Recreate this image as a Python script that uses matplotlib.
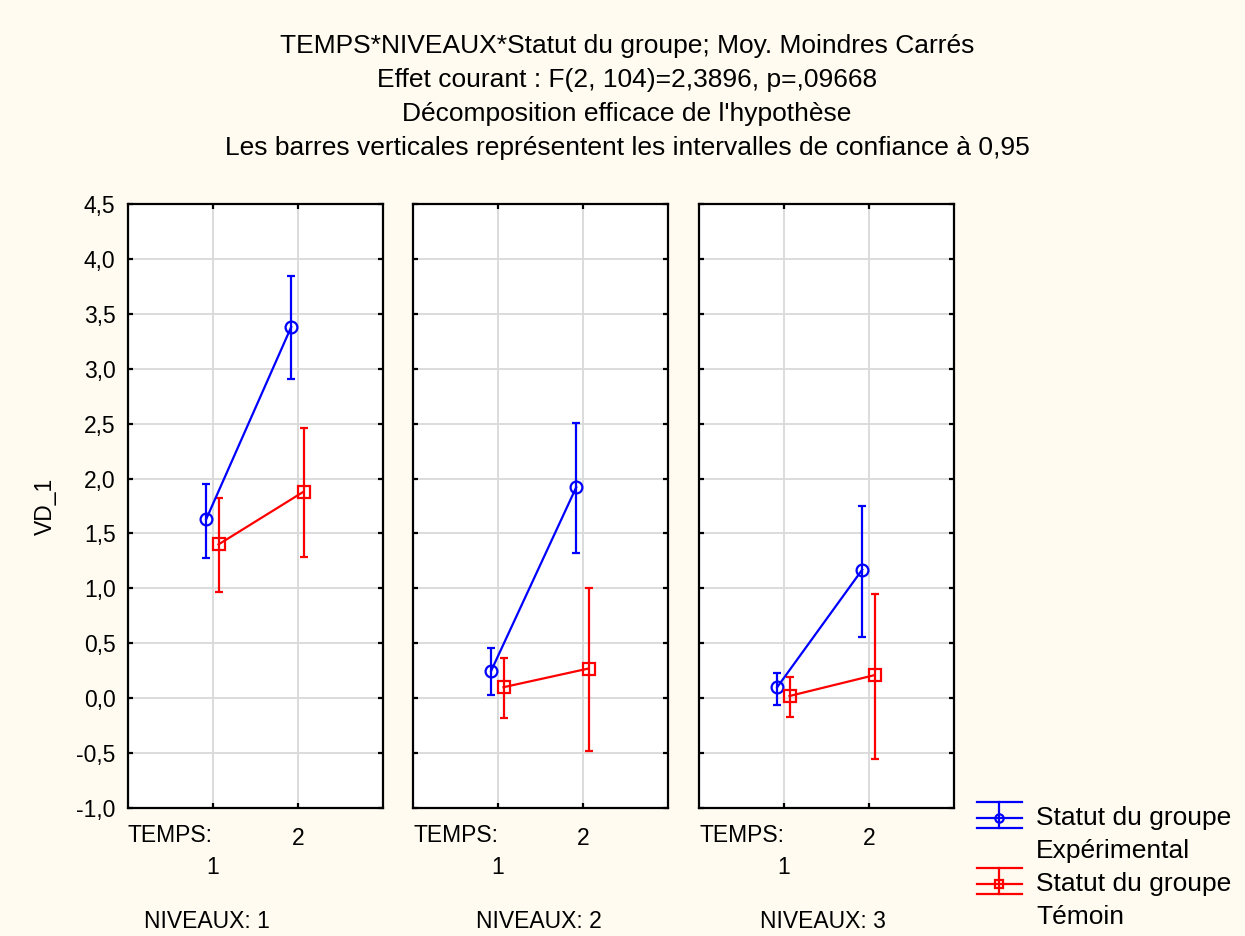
import matplotlib
matplotlib.use("Agg")
import matplotlib.pyplot as plt
from matplotlib.transforms import blended_transform_factory

plt.rcParams['font.family'] = ['Liberation Sans', 'DejaVu Sans']

# ---- data ----
temps = [1, 2]
niveaux_labels = ["NIVEAUX: 1", "NIVEAUX: 2", "NIVEAUX: 3"]
yticks = [-1.0, -0.5, 0.0, 0.5, 1.0, 1.5, 2.0, 2.5, 3.0, 3.5, 4.0, 4.5]
ytick_labels = ["-1,0", "-0,5", "0,0", "0,5", "1,0", "1,5", "2,0", "2,5", "3,0", "3,5", "4,0", "4,5"]

exp_mean = [[1.63, 3.38], [0.25, 1.92], [0.10, 1.17]]
exp_lo   = [[1.28, 2.91], [0.03, 1.32], [-0.06, 0.56]]
exp_hi   = [[1.95, 3.84], [0.46, 2.51], [0.23, 1.75]]
tem_mean = [[1.40, 1.88], [0.10, 0.27], [0.02, 0.21]]
tem_lo   = [[0.97, 1.29], [-0.18, -0.48], [-0.17, -0.55]]
tem_hi   = [[1.82, 2.46], [0.37, 1.00], [0.19, 0.95]]

series_names = ["Statut du groupe\nExpérimental", "Statut du groupe\nTémoin"]

title_lines = [
    "TEMPS*NIVEAUX*Statut du groupe; Moy. Moindres Carrés",
    "Effet courant : F(2, 104)=2,3896, p=,09668",
    "Décomposition efficace de l'hypothèse",
    "Les barres verticales représentent les intervalles de confiance à 0,95",
]

# ---- figure ----
W, H = 1245, 936
BG = '#FFFBF0'
fig = plt.figure(figsize=(W / 100, H / 100), dpi=100, facecolor=BG)

def fx(px):
    return px / W

def fy(py):
    return 1 - py / H

panel_left = [128, 413, 699]
pw, top, bot = 255, 204, 808
niv_cx = [207, 539, 823]

BLUE = '#0000FF'
RED = '#FF0000'
off_exp, off_tem = -0.08, 0.065
lw = 1.6
FS = 16.5

for i in range(3):
    ax = fig.add_axes([fx(panel_left[i]), fy(bot), fx(pw), (bot - top) / H])
    ax.set_facecolor('white')
    ax.set_xlim(0.0, 3.0)
    ax.set_ylim(-1.0, 4.5)
    ax.set_yticks(yticks)
    ax.set_xticks(temps)
    ax.grid(True, color='#D9D9D9', lw=1.3, zorder=0)
    ax.set_axisbelow(True)
    for s in ax.spines.values():
        s.set_linewidth(1.6)
        s.set_color('black')
    ax.tick_params(direction='in', length=3.5, width=1.6, top=True, right=True,
                   labelsize=FS, colors='black')
    if i == 0:
        ax.set_yticklabels(ytick_labels)
        ax.tick_params(axis='y', pad=9)
        ax.set_ylabel("VD_1", fontsize=FS, labelpad=14)
    else:
        ax.tick_params(axis='y', labelleft=False)
    ax.set_xticklabels(['', '2'])
    ax.tick_params(axis='x', pad=14)

    xe = [t + off_exp for t in temps]
    xt = [t + off_tem for t in temps]
    em, el, eh = exp_mean[i], exp_lo[i], exp_hi[i]
    tm, tl, th = tem_mean[i], tem_lo[i], tem_hi[i]
    ax.errorbar(xe, em, yerr=[[m - l for m, l in zip(em, el)], [h - m for m, h in zip(em, eh)]],
                fmt='none', ecolor=BLUE, elinewidth=lw, capsize=3, capthick=lw, zorder=3)
    ax.errorbar(xt, tm, yerr=[[m - l for m, l in zip(tm, tl)], [h - m for m, h in zip(tm, th)]],
                fmt='none', ecolor=RED, elinewidth=lw, capsize=3, capthick=lw, zorder=3)
    ax.plot(xe, em, color=BLUE, lw=lw, marker='o', ms=8.5, mfc='none', mec=BLUE, mew=lw, zorder=4)
    ax.plot(xt, tm, color=RED, lw=lw, marker='s', ms=8.5, mfc='none', mec=RED, mew=lw, zorder=4)

    trans = blended_transform_factory(ax.transData, ax.transAxes)
    ax.text(temps[0], -(868 - bot) / (bot - top), "1", transform=trans,
            ha='center', va='center', fontsize=FS)
    ax.text(0.0, -(835 - bot) / (bot - top), "TEMPS:", transform=ax.transAxes,
            ha='left', va='center', fontsize=FS)
    fig.text(fx(niv_cx[i]), fy(922), niveaux_labels[i], ha='center', va='center', fontsize=FS)

# titles
for k, line in enumerate(title_lines):
    fig.text(fx(627), fy(46 + 34 * k), line, ha='center', va='center', fontsize=19)

# legend (drawn in pixel coordinates)
lax = fig.add_axes([0, 0, 1, 1], facecolor='none')
lax.set_xlim(0, W)
lax.set_ylim(H, 0)
lax.axis('off')
for cy, col, mk, name in [(818, BLUE, 'o', series_names[0]), (884, RED, 's', series_names[1])]:
    lax.plot([977, 1022], [cy, cy], color=col, lw=lw)
    lax.plot([977, 1022], [cy - 16, cy - 16], color=col, lw=lw)
    lax.plot([977, 1022], [cy + 10, cy + 10], color=col, lw=lw)
    lax.plot([999, 999], [cy - 16, cy + 10], color=col, lw=lw)
    lax.plot([999], [cy], marker=mk, ms=6, mfc='none', mec=col, mew=lw)
    l1, l2 = name.split("\n")
    lax.text(1036, cy, l1, ha='left', va='center', fontsize=19)
    lax.text(1036, cy + 33, l2, ha='left', va='center', fontsize=19)

fig.savefig("out.png", dpi=100, facecolor=BG)
